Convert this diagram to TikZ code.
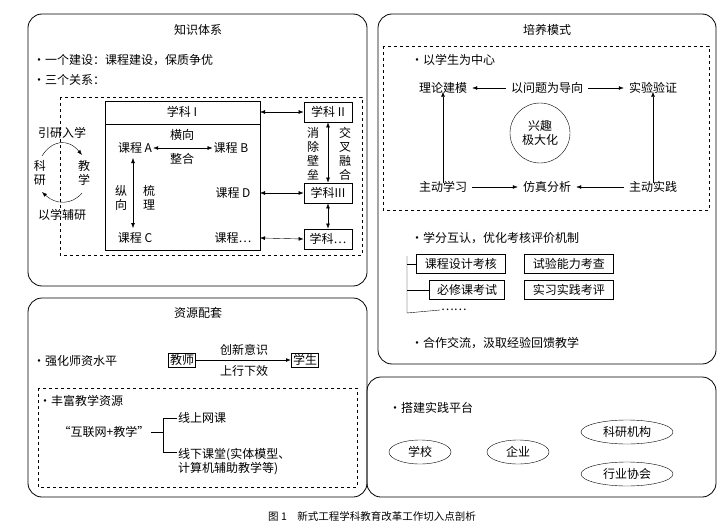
\documentclass[tikz,border=0pt]{standalone}
\usepackage{fontspec}
\setmainfont{Noto Sans CJK SC}
\usetikzlibrary{arrows.meta,shapes.geometric}
\begin{document}
\begin{tikzpicture}[x=1pt,y=-1pt,font=\fontsize{12}{14}\selectfont,
  outer/.style={draw,thick,rounded corners=14pt},
  dbox/.style={draw,dashed},
  sbox/.style={draw,thick,inner sep=1.5pt},
  kbox/.style={draw,thick,inner sep=1pt,minimum width=89pt,minimum height=19pt},
  xbox/.style={draw,thick,inner sep=1pt,minimum width=48pt,minimum height=20pt},
  arr/.style={-{Latex[length=5pt]}},
  darr/.style={{Latex[length=5pt]}-{Latex[length=5pt]}},
  lab/.style={inner sep=1pt},
  ell/.style={draw,ellipse,inner sep=1pt}]
\useasboundingbox (0,0) rectangle (726,527);
% outer boxes
\draw[outer] (28,14) rectangle (367,286);
\draw[outer] (378,14) rectangle (716,364);
\draw[outer] (28,298) rectangle (367,497);
\draw[outer] (367,377) rectangle (716,497);
% ---------- 知识体系
\node[lab] (t1) at (198,30) {知识体系};
\node[lab,anchor=west] (k1) at (32,60) {•一个建设：课程建设，保质争优};
\node[lab,anchor=west] (k2) at (32,80) {•三个关系：};
\draw[dbox] (60,97) rectangle (362,255);
\draw[thick] (105,101) rectangle (260,250);
\draw[thick] (105,124) -- (260,124);
\coordinate (xk1e) at (260,112);
\node[lab] (xk1) at (182,112) {学科 I};
\node[lab] (ca) at (135,148) {课程 A};
\node[lab] (cb) at (231,148) {课程 B};
\node[lab] (cc) at (135,238) {课程 C};
\node[lab] (cd) at (233,193) {课程 D};
\node[lab] (ce) at (233,238) {课程…};
\node[lab] (hx) at (182,135) {横向};
\node[lab] (zh) at (182,159) {整合};
\node[lab,align=center] (zx) at (121,198) {纵\\向};
\node[lab,align=center] (sl) at (149,198) {梳\\理};
\draw[darr] (ca.east) -- (cb.west);
\draw[darr] (133,158) -- (133,228);
\node[xbox] (x2) at (328,112) {学科 II};
\node[xbox] (x3) at (328,193) {学科III};
\node[xbox] (x4) at (328,239) {学科…};
\draw[darr] (xk1e) -- (x2.west);
\draw[darr] (260,193) -- (x3.west);
\draw[darr] (260,238) -- (x4.west);
\draw[darr] (x2.south) -- (x3.north);
\draw[darr] (x3.south) -- (x4.north);
\node[lab,align=center] (xc) at (313,154) {消\\除\\壁\\垒};
\node[lab,align=center] (jc) at (345,154) {交\\叉\\融\\合};
\node[lab] (yy) at (62,133) {引研入学};
\node[lab] (yx) at (62,215) {以学辅研};
\node[lab,align=center] (ky) at (40,173) {科\\研};
\node[lab,align=center] (jx) at (84,173) {教\\学};
\draw[arr] (42,156) .. controls (52,140) and (68,138) .. (82,155);
\draw[arr] (82,193) .. controls (72,205) and (56,205) .. (42,192);
% ---------- 培养模式
\node[lab] (t2) at (547,30) {培养模式};
\draw[dbox] (383,46) rectangle (709,210);
\node[lab,anchor=west] (p0) at (410,60) {•以学生为中心};
\node[lab] (ll) at (443,88) {理论建模};
\node[lab] (wt) at (547,88) {以问题为导向};
\node[lab] (sy) at (653,88) {实验验证};
\node[lab] (zd) at (443,187) {主动学习};
\node[lab] (fz) at (547,187) {仿真分析};
\node[lab] (sj) at (653,187) {主动实践};
\node[draw,circle,minimum size=60pt,align=center,inner sep=0pt] (xq) at (540,133) {兴趣\\极大化};
\draw[arr] ([xshift=-4pt]wt.west) -- ([xshift=4pt]ll.east);
\draw[arr] ([xshift=4pt]wt.east) -- ([xshift=-4pt]sy.west);
\draw[arr] ([xshift=4pt]zd.east) -- ([xshift=-4pt]fz.west);
\draw[arr] ([xshift=-4pt]sj.west) -- ([xshift=4pt]fz.east);
\draw[arr] ([yshift=-3pt]zd.north) -- ([yshift=3pt]ll.south);
\draw[arr] ([yshift=-3pt]sj.north) -- ([yshift=3pt]sy.south);
\node[lab,anchor=west] (p1) at (410,238) {•学分互认，优化考核评价机制};
\node[kbox,anchor=west] (b1) at (416,264) {课程设计考核};
\node[kbox,anchor=east,minimum width=75pt] (b2) at (505,290) {必修课考试};
\node[kbox,anchor=west] (b3) at (524,264) {试验能力考查};
\node[kbox,anchor=west] (b4) at (524,290) {实习实践考评};
\node[lab,anchor=west] (b5) at (440,310) {……};
\draw (407,256) -- (407,313) -- (b5.west);
\draw (407,264) -- (b1.west);
\draw (407,290) -- (b2.west);
\node[lab,anchor=west] (p2) at (410,343) {•合作交流，汲取经验回馈教学};
% ---------- 资源配套
\node[lab] (t3) at (198,313) {资源配套};
\node[lab,anchor=west] (r1) at (32,361) {•强化师资水平};
\node[sbox] (js) at (182,360) {教师};
\node[sbox] (xs) at (305,360) {学生};
\draw[arr,thick] (js.east) -- (xs.west);
\node[lab] (cx) at (244,350) {创新意识};
\node[lab] (sx) at (244,371) {上行下效};
\draw[dbox] (38,388) rectangle (357,487);
\node[lab,anchor=west] (r2) at (38,401) {•丰富教学资源};
\node[lab] (hl) at (104,432) {“互联网+教学”};
\node[lab,anchor=west] (xs1) at (177,418) {线上网课};
\node[lab,anchor=west,align=left] (xx) at (177,462) {线下课堂(实体模型、\\计算机辅助教学等)};
\coordinate (br) at (163,432);
\draw (hl.east) -- (br);
\draw (xs1.west) -- (163,418) -- (163,452) -- (177,452);
% ---------- 实践平台
\node[lab,anchor=west] (s0) at (388,408) {•搭建实践平台};
\node[ell,minimum width=62pt,minimum height=24pt] (e1) at (420,452) {学校};
\node[ell,minimum width=62pt,minimum height=24pt] (e2) at (518,452) {企业};
\node[ell,minimum width=92pt,minimum height=24pt] (e3) at (627,432) {科研机构};
\node[ell,minimum width=92pt,minimum height=24pt] (e4) at (627,474) {行业协会};
% caption
\node[lab] (cap) at (372,516) {\fontsize{10.5}{12}\selectfont 图 1\quad 新式工程学科教育改革工作切入点剖析};
\end{tikzpicture}
\end{document}
